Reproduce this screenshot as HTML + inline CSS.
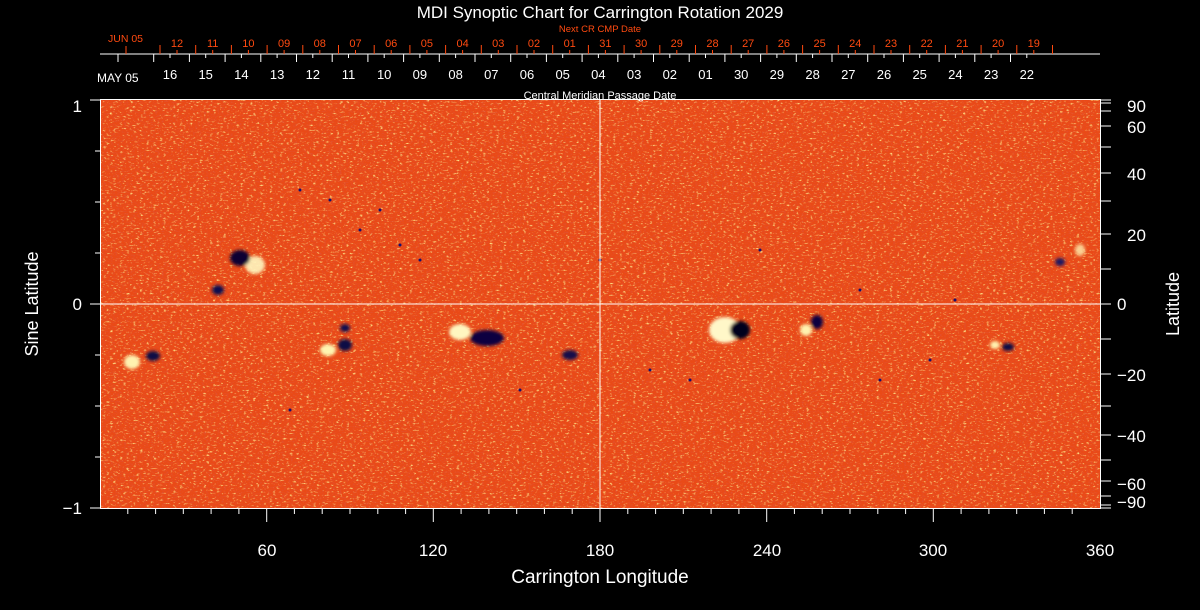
<!DOCTYPE html>
<html><head><meta charset="utf-8"><style>
html,body{margin:0;padding:0;background:#000;}
svg{display:block;}
text{font-family:"Liberation Sans",sans-serif;}
</style></head><body>
<svg width="1200" height="610" viewBox="0 0 1200 610" xmlns="http://www.w3.org/2000/svg">
<defs>
<filter id="tex" x="0" y="0" width="100%" height="100%">
<feTurbulence type="fractalNoise" baseFrequency="0.3 0.6" numOctaves="2" seed="3"/>
<feColorMatrix values="0 0 0 0 1  0 0 0 0 0.8  0 0 0 0 0.25  3.5 0 0 0 -2.05"/>
</filter>
<filter id="tex2" x="0" y="0" width="100%" height="100%">
<feTurbulence type="fractalNoise" baseFrequency="0.45 0.8" numOctaves="1" seed="9"/>
<feColorMatrix values="0 0 0 0 0.75  0 0 0 0 0.08  0 0 0 0 0.03  3 0 0 0 -1.4"/>
</filter>
<filter id="blur"><feGaussianBlur stdDeviation="1.5"/></filter>
</defs>
<rect width="1200" height="610" fill="#000"/>
<text x="600" y="18" fill="#fff" font-size="17" text-anchor="middle">MDI Synoptic Chart for Carrington Rotation 2029</text>
<text x="600" y="32" fill="#ff4a10" font-size="9.5" text-anchor="middle">Next CR CMP Date</text>
<rect x="100" y="100" width="1000" height="408" fill="#ea4a16"/>
<rect x="100" y="100" width="1000" height="408" filter="url(#tex2)"/>
<rect x="100" y="100" width="1000" height="408" filter="url(#tex)"/>
<g filter="url(#blur)">
<ellipse cx="255" cy="265" rx="10" ry="9" fill="#fff7c0" opacity="0.9"/>
<ellipse cx="240" cy="258" rx="10" ry="8" fill="#0a0630"/>
<ellipse cx="218" cy="290" rx="6" ry="5" fill="#101050"/>
<ellipse cx="460" cy="332" rx="11" ry="8" fill="#fff6c0"/>
<ellipse cx="487" cy="338" rx="17" ry="8" fill="#0a0640"/>
<ellipse cx="328" cy="350" rx="8" ry="6" fill="#fff4b0"/>
<ellipse cx="345" cy="345" rx="7" ry="6" fill="#0c0a45"/>
<ellipse cx="345" cy="328" rx="5" ry="4" fill="#101050"/>
<ellipse cx="725" cy="330" rx="16" ry="13" fill="#fff7c8"/>
<ellipse cx="740" cy="330" rx="10" ry="9" fill="#05031a"/>
<ellipse cx="806" cy="330" rx="6" ry="6" fill="#fff2b0"/>
<ellipse cx="817" cy="322" rx="6" ry="7" fill="#0a0640"/>
<ellipse cx="132" cy="362" rx="8" ry="7" fill="#fff2b0"/>
<ellipse cx="153" cy="356" rx="7" ry="5" fill="#0c0a45"/>
<ellipse cx="995" cy="345" rx="5" ry="4" fill="#fff2b0"/>
<ellipse cx="1008" cy="347" rx="6" ry="4" fill="#0c0a45"/>
<ellipse cx="570" cy="355" rx="8" ry="5" fill="#12104a"/>
<ellipse cx="1080" cy="250" rx="5" ry="6" fill="#fff0b0" opacity="0.8"/>
<ellipse cx="1060" cy="262" rx="5" ry="4" fill="#1a1460"/>
</g>
<g fill="#141070">
<circle cx="380" cy="210" r="1.5"/><circle cx="400" cy="245" r="1.5"/><circle cx="420" cy="260" r="1.5"/><circle cx="360" cy="230" r="1.5"/>
<circle cx="330" cy="200" r="1.5"/><circle cx="520" cy="390" r="1.5"/><circle cx="690" cy="380" r="1.5"/><circle cx="880" cy="380" r="1.5"/>
<circle cx="650" cy="370" r="1.5"/><circle cx="930" cy="360" r="1.5"/><circle cx="760" cy="250" r="1.5"/><circle cx="600" cy="260" r="1.5"/>
<circle cx="290" cy="410" r="1.5"/><circle cx="300" cy="190" r="1.5"/><circle cx="955" cy="300" r="1.5"/><circle cx="860" cy="290" r="1.5"/>
</g>
<line x1="600" y1="100" x2="600" y2="508" stroke="#fff" stroke-width="1"/>
<line x1="100" y1="304" x2="1100" y2="304" stroke="#fff" stroke-width="1"/>
<rect x="100.5" y="99.5" width="1000" height="409" fill="none" stroke="#fff" stroke-width="1"/>
<g stroke="#fff">
<line x1="90" y1="100" x2="100" y2="100"/><line x1="90" y1="304" x2="100" y2="304"/><line x1="90" y1="508" x2="100" y2="508"/>
<line x1="95" y1="151" x2="100" y2="151"/><line x1="95" y1="202" x2="100" y2="202"/><line x1="95" y1="253" x2="100" y2="253"/>
<line x1="95" y1="355" x2="100" y2="355"/><line x1="95" y1="406" x2="100" y2="406"/><line x1="95" y1="457" x2="100" y2="457"/>
</g>
<g fill="#fff" font-size="17" text-anchor="end">
<text x="82" y="112">1</text><text x="82" y="310">0</text><text x="82" y="514">−1</text>
</g>
<text transform="translate(38,304) rotate(-90)" fill="#fff" font-size="18" text-anchor="middle">Sine Latitude</text>
<g stroke="#fff">
<line x1="1100" y1="100" x2="1111" y2="100"/><line x1="1100" y1="103" x2="1111" y2="103"/><line x1="1100" y1="111" x2="1111" y2="111"/>
<line x1="1100" y1="126" x2="1111" y2="126"/><line x1="1100" y1="147" x2="1111" y2="147"/><line x1="1100" y1="173" x2="1111" y2="173"/>
<line x1="1100" y1="201" x2="1111" y2="201"/><line x1="1100" y1="234" x2="1111" y2="234"/><line x1="1100" y1="269" x2="1111" y2="269"/>
<line x1="1100" y1="304" x2="1111" y2="304"/><line x1="1100" y1="339" x2="1111" y2="339"/><line x1="1100" y1="374" x2="1111" y2="374"/>
<line x1="1100" y1="406" x2="1111" y2="406"/><line x1="1100" y1="435" x2="1111" y2="435"/><line x1="1100" y1="460" x2="1111" y2="460"/>
<line x1="1100" y1="481" x2="1111" y2="481"/><line x1="1100" y1="496" x2="1111" y2="496"/><line x1="1100" y1="505" x2="1111" y2="505"/><line x1="1100" y1="508" x2="1111" y2="508"/>
</g>
<g fill="#fff" font-size="17">
<text x="1127" y="112">90</text><text x="1127" y="133">60</text><text x="1127" y="180">40</text><text x="1127" y="241">20</text>
<text x="1117" y="310">0</text><text x="1117" y="381">−20</text><text x="1117" y="442">−40</text><text x="1117" y="490">−60</text><text x="1117" y="508">−90</text>
</g>
<text transform="translate(1179,304) rotate(-90)" fill="#fff" font-size="18" text-anchor="middle">Latitude</text>
<g stroke="#fff">
<line x1="127.8" y1="508" x2="127.8" y2="514"/><line x1="155.6" y1="508" x2="155.6" y2="514"/><line x1="183.3" y1="508" x2="183.3" y2="514"/><line x1="211.1" y1="508" x2="211.1" y2="514"/><line x1="238.9" y1="508" x2="238.9" y2="514"/>
<line x1="266.7" y1="508" x2="266.7" y2="522"/>
<line x1="294.4" y1="508" x2="294.4" y2="514"/><line x1="322.2" y1="508" x2="322.2" y2="514"/><line x1="350" y1="508" x2="350" y2="514"/><line x1="377.8" y1="508" x2="377.8" y2="514"/><line x1="405.6" y1="508" x2="405.6" y2="514"/>
<line x1="433.3" y1="508" x2="433.3" y2="522"/>
<line x1="461.1" y1="508" x2="461.1" y2="514"/><line x1="488.9" y1="508" x2="488.9" y2="514"/><line x1="516.7" y1="508" x2="516.7" y2="514"/><line x1="544.4" y1="508" x2="544.4" y2="514"/><line x1="572.2" y1="508" x2="572.2" y2="514"/>
<line x1="600" y1="508" x2="600" y2="522"/>
<line x1="627.8" y1="508" x2="627.8" y2="514"/><line x1="655.6" y1="508" x2="655.6" y2="514"/><line x1="683.3" y1="508" x2="683.3" y2="514"/><line x1="711.1" y1="508" x2="711.1" y2="514"/><line x1="738.9" y1="508" x2="738.9" y2="514"/>
<line x1="766.7" y1="508" x2="766.7" y2="522"/>
<line x1="794.4" y1="508" x2="794.4" y2="514"/><line x1="822.2" y1="508" x2="822.2" y2="514"/><line x1="850" y1="508" x2="850" y2="514"/><line x1="877.8" y1="508" x2="877.8" y2="514"/><line x1="905.6" y1="508" x2="905.6" y2="514"/>
<line x1="933.3" y1="508" x2="933.3" y2="522"/>
<line x1="961.1" y1="508" x2="961.1" y2="514"/><line x1="988.9" y1="508" x2="988.9" y2="514"/><line x1="1016.7" y1="508" x2="1016.7" y2="514"/><line x1="1044.4" y1="508" x2="1044.4" y2="514"/><line x1="1072.2" y1="508" x2="1072.2" y2="514"/>
</g>
<g fill="#fff" font-size="17" text-anchor="middle">
<text x="267" y="556">60</text><text x="433" y="556">120</text><text x="600" y="556">180</text><text x="767" y="556">240</text><text x="933" y="556">300</text><text x="1100" y="556">360</text>
</g>
<text x="600" y="583" fill="#fff" font-size="19" text-anchor="middle">Carrington Longitude</text>
<text x="600" y="99" fill="#fff" font-size="11" text-anchor="middle">Central Meridian Passage Date</text>
<line x1="100" y1="54" x2="1100" y2="54" stroke="#fff"/>
<g stroke="#ff4a10" id="ot"></g>
<g stroke="#fff" id="wt"></g>
<g fill="#ff4a10" font-size="11" text-anchor="middle" id="ol"></g>
<g fill="#fff" font-size="13" text-anchor="middle" id="wl"></g>
<text x="108" y="42" fill="#ff4a10" font-size="10.5">JUN 05</text>
<line x1="126" y1="46" x2="126" y2="54" stroke="#ff4a10"/>
<text x="97" y="82" fill="#fff" font-size="12">MAY 05</text>
<script>
var ns="http://www.w3.org/2000/svg";
function el(p,t,a,txt){var e=document.createElementNS(ns,t);for(var k in a)e.setAttribute(k,a[k]);if(txt)e.textContent=txt;document.getElementById(p).appendChild(e);}
var ol=["12","11","10","09","08","07","06","05","04","03","02","01","31","30","29","28","27","26","25","24","23","22","21","20","19"];
var wl=["16","15","14","13","12","11","10","09","08","07","06","05","04","03","02","01","30","29","28","27","26","25","24","23","22"];
var d=35.7;
for(var i=0;i<25;i++){var x=177+i*d;el("ol","text",{x:x,y:47},ol[i]);el("ot","line",{x1:x,y1:50,x2:x,y2:54});}
for(var i=0;i<26;i++){var x=160+i*d;el("ot","line",{x1:x,y1:45,x2:x,y2:54});}
for(var i=0;i<25;i++){var x=170+i*d;el("wl","text",{x:x,y:79},wl[i]);el("wt","line",{x1:x,y1:54,x2:x,y2:58});}
for(var i=0;i<26;i++){var x=119+i*d-1;el("wt","line",{x1:x,y1:54,x2:x,y2:62});}
</script>
</svg>
</body></html>
